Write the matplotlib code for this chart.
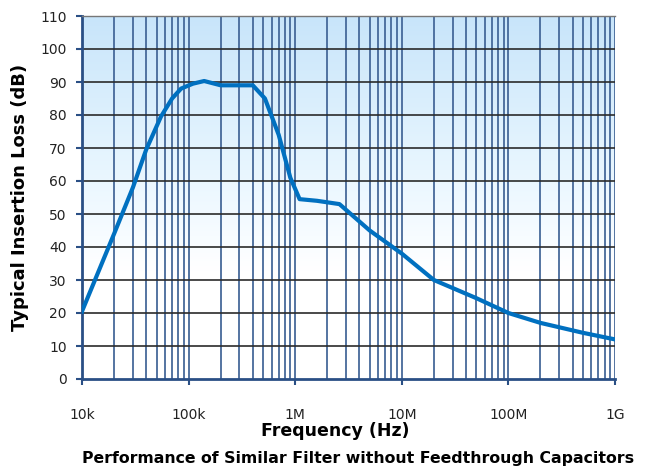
import numpy as np
import matplotlib
matplotlib.use("Agg")
import matplotlib.pyplot as plt
from matplotlib.colors import LinearSegmentedColormap
from matplotlib.ticker import FixedLocator

freq_hz = [1e4, 2e4, 3e4, 4e4, 5.5e4, 7e4, 8.5e4, 1.1e5, 1.4e5, 2e5, 4e5,
           5.2e5, 7e5, 9e5, 1.1e6, 1.6e6, 2.6e6, 5e6, 1e7, 2e7, 5e7, 1e8,
           2e8, 5e8, 1e9]
loss_db = [20.5, 44, 58, 69.5, 79.5, 85, 88, 89.5, 90.3, 89, 89, 85, 74, 61,
           54.5, 54, 53, 45, 38, 30, 24.5, 20, 17, 14, 12]
xtick_vals = [1e4, 1e5, 1e6, 1e7, 1e8, 1e9]
xtick_labels = ["10k", "100k", "1M", "10M", "100M", "1G"]
ytick_vals = list(range(0, 111, 10))

plt.rcParams['font.family'] = ['DejaVu Sans']

fig = plt.figure(figsize=(6.49, 4.67), dpi=100)
ax = fig.add_axes([82/649, 1-379/467, (615-82)/649, (379-16)/467])

# gradient background
cmap = LinearSegmentedColormap.from_list(
    "bg", [(0.0, "#ffffff"), (0.3, "#ffffff"), (0.55, "#eaf7ff"), (1.0, "#c8e5fa")])
grad = np.linspace(0, 1, 256).reshape(-1, 1)
ax.imshow(grad, cmap=cmap, origin="lower", aspect="auto",
          extent=[0, 1, 0, 1], transform=ax.transAxes, zorder=0)

ax.set_xscale("log")
ax.set_xlim(1e4, 1e9)
ax.set_ylim(0, 110)

# vertical grid lines (major + minor)
for dec in range(4, 9):
    for m in range(1, 10):
        v = m * 10**dec
        if v > 1e4:
            ax.axvline(v, color="#46699a", lw=1.3, zorder=1)
ax.axvline(1e9, color="#46699a", lw=1.3, zorder=1)
for yv in ytick_vals[1:]:
    ax.axhline(yv, color="#2b2b2b", lw=1.2, zorder=1)

ax.plot(freq_hz, loss_db, color="#0070c0", lw=3, zorder=3, solid_joinstyle="round")

ax.xaxis.set_major_locator(FixedLocator(xtick_vals))
ax.xaxis.set_minor_locator(FixedLocator([]))
ax.set_xticklabels(xtick_labels)
ax.set_yticks(ytick_vals)
ax.tick_params(axis="x", direction="out", length=4, width=1.5, color="#2a4f85",
               pad=17, labelsize=10, labelcolor="#222222")
ax.tick_params(axis="y", direction="out", length=4, width=1.5, color="#2a4f85",
               pad=7, labelsize=10, labelcolor="#222222")

for s in ["left", "bottom"]:
    ax.spines[s].set_color("#2a4f85")
    ax.spines[s].set_linewidth(2)
ax.spines["top"].set_color("#777777")
ax.spines["top"].set_linewidth(1)
ax.spines["right"].set_visible(False)

ax.set_ylabel("Typical Insertion Loss (dB)", fontsize=13, fontweight="bold", labelpad=8)
ax.set_xlabel("Frequency (Hz)", fontsize=12.5, fontweight="bold")
ax.xaxis.set_label_coords(0.475, -0.118)
fig.text(0.551, 0.003, "Performance of Similar Filter without Feedthrough Capacitors",
         ha="center", va="bottom", fontsize=11.3, fontweight="bold")

fig.savefig("out.png", dpi=100)
